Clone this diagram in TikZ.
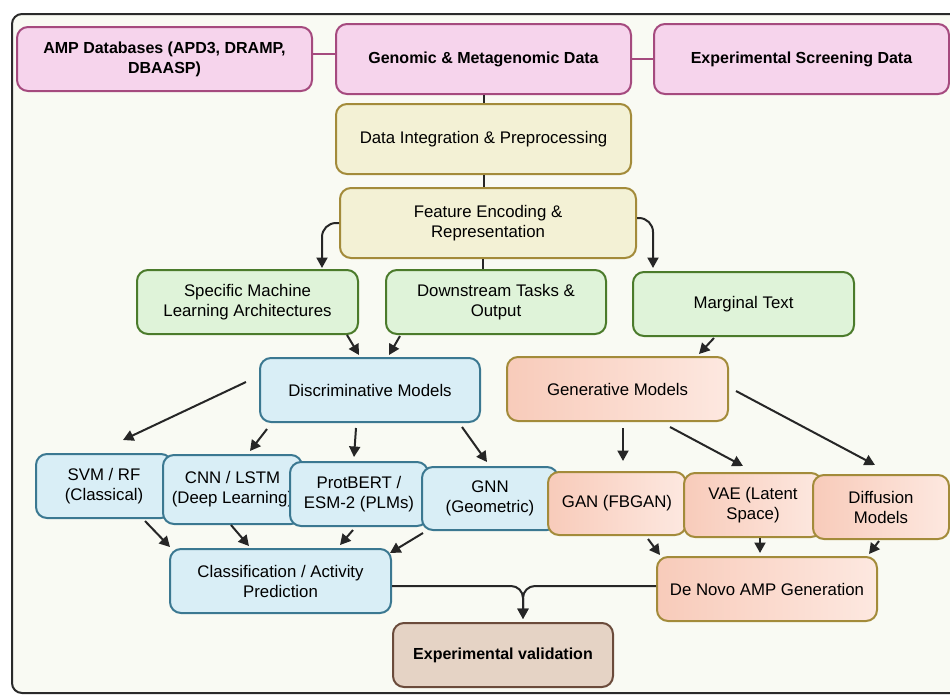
\documentclass[tikz,border=0pt]{standalone}
\usepackage{fontspec}
\setmainfont{Liberation Sans}
\usetikzlibrary{arrows.meta}
\definecolor{bgc}{HTML}{F9FAF3}
\definecolor{framec}{HTML}{2A2A2A}
\definecolor{pinkf}{HTML}{F6D4EC}
\definecolor{pinkd}{HTML}{A54A7E}
\definecolor{yelf}{HTML}{F3F1D5}
\definecolor{yeld}{HTML}{A38B3A}
\definecolor{grnf}{HTML}{DFF3D9}
\definecolor{grnd}{HTML}{4B7B2B}
\definecolor{bluf}{HTML}{D9EEF6}
\definecolor{blud}{HTML}{3B7891}
\definecolor{salL}{HTML}{F8CBBA}
\definecolor{salR}{HTML}{FDE8E0}
\definecolor{brnf}{HTML}{E5D3C5}
\definecolor{brnd}{HTML}{6B4B3B}
\definecolor{arrc}{HTML}{262626}
\tikzset{
  every node/.style={font=\fontsize{16.8}{20}\selectfont, text=black, align=center, inner sep=0pt},
  box/.style={rounded corners=11pt, line width=2pt},
  pinkbox/.style={box, draw=pinkd, fill=pinkf, font=\fontsize{16}{20}\selectfont\bfseries},
  yelbox/.style={box, draw=yeld, fill=yelf},
  grnbox/.style={box, draw=grnd, fill=grnf},
  blubox/.style={box, draw=blud, fill=bluf},
  salbox/.style={box, draw=yeld, left color=salL, right color=salR},
  brnbox/.style={box, draw=brnd, fill=brnf, font=\fontsize{16}{20}\selectfont\bfseries},
  arr/.style={draw=arrc, line width=2pt, -{Triangle[length=10.5pt,width=11pt]}},
  plain/.style={draw=arrc, line width=2pt},
  pinkline/.style={draw=pinkd, line width=2pt},
}
\begin{document}
\begin{tikzpicture}[x=1pt,y=-1pt]
\useasboundingbox (0,0) rectangle (950,694);
\fill[white] (0,0) rectangle (950,694);
\draw[framec, fill=bgc, line width=2pt, rounded corners=10pt] (12,14) rectangle (962,693);

% top row
\node[pinkbox, minimum width=295pt, minimum height=64pt] (amp) at (164.5,59) {AMP Databases (APD3, DRAMP,\\DBAASP)};
\node[pinkbox, minimum width=295pt, minimum height=70pt] (gen) at (483.5,59) {Genomic \& Metagenomic Data};
\node[pinkbox, minimum width=295pt, minimum height=70pt] (exp) at (801.5,59) {Experimental Screening Data};
\draw[pinkline] ([yshift=5pt]amp.east) -- ([yshift=5pt]gen.west);
\draw[pinkline] (gen.east) -- (exp.west);

\node[yelbox, minimum width=295pt, minimum height=70pt] (integ) at (483.5,139) {Data Integration \& Preprocessing};
\node[yelbox, minimum width=296pt, minimum height=70pt] (feat) at (488,223) {Feature Encoding \&\\Representation};
\draw[plain] (gen.south) -- (integ.north);
\draw[plain] (integ.south) -- (integ.south |- feat.north);

\node[grnbox, minimum width=221pt, minimum height=64pt] (spec) at (247.5,302) {Specific Machine\\Learning Architectures};
\node[grnbox, minimum width=220pt, minimum height=64pt] (down) at (496,302) {Downstream Tasks \&\\Output};
\node[grnbox, minimum width=221pt, minimum height=64pt] (marg) at (743.5,304) {Marginal Text};

\draw[arr, rounded corners=14pt] (feat.west) -| ([xshift=74.5pt,yshift=1pt]spec.north);
\draw[arr, rounded corners=14pt] ([yshift=5pt]feat.east) -| ([xshift=-90.5pt,yshift=3pt]marg.north);
\draw[plain] ([xshift=-5pt]feat.south) -- ([xshift=-13pt]down.north);

\node[blubox, minimum width=220pt, minimum height=64pt] (disc) at (370,390) {Discriminative Models};
\node[salbox, minimum width=221pt, minimum height=64pt] (genm) at (617.5,389) {Generative Models};

\draw[arr] ([xshift=99.5pt]spec.south) -- ([xshift=-11pt,yshift=2pt]disc.north);
\draw[arr] ([xshift=-96pt,yshift=-1pt]down.south) -- ([xshift=19pt,yshift=2pt]disc.north);
\draw[arr] ([xshift=-29.5pt,yshift=-1pt]marg.south) -- ([xshift=81.5pt,yshift=2pt]genm.north);

% bottom row
\node[blubox, minimum width=136pt, minimum height=64pt] (svm) at (104,486) {SVM / RF\\(Classical)};
\node[blubox, minimum width=139pt, minimum height=69pt] (cnn) at (232.5,489.5) {CNN / LSTM\\(Deep Learning)};
\node[blubox, minimum width=138pt, minimum height=64pt] (prot) at (359,494) {ProtBERT /\\ESM-2 (PLMs)};
\node[blubox, minimum width=136pt, minimum height=63pt] (gnn) at (490,498.5) {GNN\\(Geometric)};
\node[salbox, minimum width=138pt, minimum height=63pt] (gan) at (617,503.5) {GAN (FBGAN)};
\node[salbox, minimum width=138pt, minimum height=64pt] (vae) at (753,505) {VAE (Latent\\Space)};
\node[salbox, minimum width=136pt, minimum height=64pt] (diff) at (881,507) {Diffusion\\Models};

\draw[arr] ([xshift=-13pt,yshift=8pt]disc.west) -- ([xshift=19pt,yshift=13pt]svm.north);
\draw[arr] ([xshift=-103pt,yshift=-6pt]disc.south) -- ([xshift=17.5pt,yshift=3pt]cnn.north);
\draw[arr] ([xshift=-14pt,yshift=-5pt]disc.south) -- ([xshift=-5pt,yshift=4pt]prot.north);
\draw[arr] ([xshift=92pt,yshift=-4pt]disc.south) -- ([xshift=-3pt,yshift=4pt]gnn.north);
\draw[arr] ([xshift=5.5pt,yshift=-6pt]genm.south) -- ([xshift=6pt,yshift=10pt]gan.north);
\draw[arr] ([xshift=52.5pt,yshift=-5pt]genm.south) -- ([xshift=-10pt,yshift=6pt]vae.north);
\draw[arr] ([xshift=7pt,yshift=-2pt]genm.east) -- ([xshift=-6pt,yshift=9pt]diff.north);

\node[blubox, minimum width=221pt, minimum height=64pt] (cls) at (280.5,581) {Classification / Activity\\Prediction};
\node[salbox, minimum width=220pt, minimum height=64pt] (novo) at (767,589) {De Novo AMP Generation};
\node[brnbox, minimum width=220pt, minimum height=64pt] (val) at (503,655) {Experimental validation};

\draw[arr] ([xshift=41pt,yshift=-2pt]svm.south) -- ([xshift=-110.5pt,yshift=1pt]cls.north);
\draw[arr] ([xshift=-1.5pt]cnn.south) -- ([xshift=-31.5pt,yshift=2pt]cls.north);
\draw[arr] ([xshift=-6pt,yshift=-3pt]prot.south) -- ([xshift=59.5pt,yshift=3pt]cls.north);
\draw[arr] ([xshift=-67pt,yshift=-2pt]gnn.south) -- ([xshift=109.5pt,yshift=-5pt]cls.north);
\draw[arr] ([xshift=31pt,yshift=-3pt]gan.south) -- ([xshift=-107pt,yshift=1pt]novo.north);
\draw[arr] ([xshift=7pt]vae.south) -- ([xshift=-7pt,yshift=3pt]novo.north);
\draw[arr] ([xshift=-2pt,yshift=-1pt]diff.south) -- ([xshift=102pt,yshift=2pt]novo.north);

\draw[arr, rounded corners=12pt] ([yshift=-5pt]cls.east) -| ([xshift=20pt,yshift=3pt]val.north);
\draw[arr, rounded corners=12pt] ([yshift=3pt]novo.west) -| ([xshift=20pt,yshift=3pt]val.north);
\end{tikzpicture}
\end{document}
